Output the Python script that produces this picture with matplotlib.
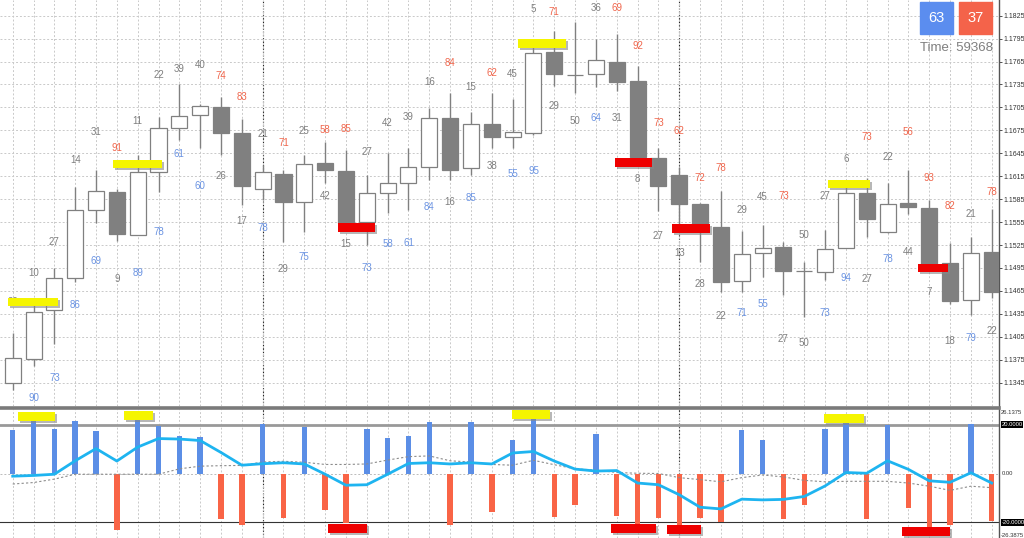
import matplotlib
matplotlib.use('Agg')
import matplotlib.pyplot as plt
from matplotlib import patheffects as pe
from matplotlib.lines import Line2D
from matplotlib.patches import Rectangle
import numpy as np

# ---------------- data ----------------
opens = [1.13450, 1.13760, 1.14401, 1.14816, 1.15709, 1.15948, 1.15382, 1.16210, 1.16785, 1.16951,
         1.17060, 1.16712, 1.15979, 1.16180, 1.15810, 1.16320, 1.16223, 1.15552, 1.15927, 1.16066,
         1.16275, 1.16912, 1.16254, 1.16834, 1.16660, 1.16712, 1.17779, 1.17472, 1.17484, 1.17648,
         1.17396, 1.16393, 1.16170, 1.15787, 1.15486, 1.14784, 1.15142, 1.15221, 1.14910, 1.14894,
         1.15212, 1.15935, 1.15417, 1.15804, 1.15731, 1.15020, 1.14532, 1.15163]
highs = [1.14100, 1.14492, 1.14950, 1.16010, 1.16232, 1.15983, 1.16428, 1.16929, 1.17353, 1.17095,
         1.17191, 1.16899, 1.16297, 1.16232, 1.16428, 1.16602, 1.16494, 1.16167, 1.16450, 1.16516,
         1.17039, 1.17235, 1.16994, 1.17243, 1.17161, 1.17910, 1.18050, 1.18172, 1.17941, 1.18007,
         1.17592, 1.16524, 1.16275, 1.15800, 1.15957, 1.15438, 1.15513, 1.15294, 1.15033, 1.15447,
         1.16058, 1.16123, 1.16066, 1.16232, 1.15840, 1.15273, 1.15359, 1.15718]
lows = [1.13355, 1.13668, 1.13956, 1.14767, 1.15539, 1.15307, 1.15375, 1.15948, 1.16624, 1.16516,
        1.16428, 1.15774, 1.15840, 1.15294, 1.15425, 1.16058, 1.15447, 1.15251, 1.15670, 1.15709,
        1.16101, 1.16101, 1.16167, 1.16516, 1.16516, 1.16690, 1.17331, 1.17235, 1.17314, 1.17269,
        1.16284, 1.15700, 1.15447, 1.15033, 1.14636, 1.14632, 1.14836, 1.14597, 1.14313, 1.14793,
        1.15205, 1.15352, 1.15410, 1.15656, 1.14976, 1.14479, 1.14336, 1.14554]
closes = [1.13769, 1.14379, 1.14816, 1.15709, 1.15961, 1.15395, 1.16210, 1.16777, 1.16942, 1.17073,
          1.16712, 1.16027, 1.16206, 1.15817, 1.16310, 1.16232, 1.15543, 1.15935, 1.16066, 1.16267,
          1.16908, 1.16232, 1.16830, 1.16667, 1.16725, 1.17766, 1.17484, 1.17468, 1.17667, 1.17387,
          1.16406, 1.16027, 1.15783, 1.15490, 1.14767, 1.15133, 1.15208, 1.14915, 1.14907, 1.15203,
          1.15927, 1.15595, 1.15787, 1.15748, 1.14999, 1.14523, 1.15142, 1.14640]

# numbers printed above / below each candle
top_vals = [29, 10, 27, 14, 31, 91, 11, 22, 39, 40, 74, 83, 21, 71, 25, 58, 85, 27, 42, 39,
            16, 84, 15, 62, 45, 5, 71, None, 36, 69, 92, 73, 62, 72, 78, 29, 45, 73, 50, 27,
            6, 73, 22, 56, 93, 82, 21, 78]
top_cols = ['g', 'g', 'g', 'g', 'g', 'r', 'g', 'g', 'g', 'g', 'r', 'r', 'g', 'r', 'g', 'r', 'r', 'g', 'g', 'g',
            'g', 'r', 'g', 'r', 'g', 'g', 'r', '-', 'g', 'r', 'r', 'r', 'r', 'r', 'r', 'g', 'g', 'r', 'g', 'g',
            'g', 'r', 'g', 'r', 'r', 'r', 'g', 'r']
top_lvls = [1.14506, 1.14885, 1.15290, 1.16363, 1.16729, 1.16520, 1.16873, 1.17474, 1.17553, 1.17605,
            1.17461, 1.17187, 1.16703, 1.16585, 1.16742, 1.16755, 1.16768, 1.16467, 1.16847, 1.16925,
            1.17383, 1.17631, 1.17317, 1.17501, 1.17488, 1.18338, 1.18298, None, 1.18351, 1.18351,
            1.17854, 1.16847, 1.16742, 1.16127, 1.16258, 1.15709, 1.15879, 1.15892, 1.15382, 1.15892,
            1.16376, 1.16664, 1.16402, 1.16729, 1.16127, 1.15761, 1.15656, 1.15944]
bot_vals = [None, 90, 73, 86, 69, 9, 89, 78, 61, 60, 26, 17, 78, 29, 75, 42, 15, 73, 58, 61,
            84, 16, 85, 38, 55, 95, 29, 50, 64, 31, 8, 27, 13, 28, 22, 71, 55, 27, 50, 73,
            94, 27, 78, 44, 7, 18, 79, 22]
bot_cols = ['-', 'b', 'b', 'b', 'b', 'g', 'b', 'b', 'b', 'b', 'g', 'g', 'b', 'g', 'b', 'g', 'g', 'b', 'b', 'b',
            'b', 'g', 'b', 'g', 'b', 'b', 'g', 'g', 'b', 'g', 'g', 'g', 'g', 'g', 'g', 'b', 'b', 'g', 'g', 'b',
            'b', 'g', 'b', 'g', 'g', 'g', 'b', 'g']
bot_lvls = [None, 1.13250, 1.13511, 1.14466, 1.15042, 1.14806, 1.14885, 1.15421, 1.16441, 1.16023,
            1.16153, 1.15565, 1.15473, 1.14937, 1.15094, 1.15892, 1.15264, 1.14950, 1.15264, 1.15277,
            1.15748, 1.15813, 1.15866, 1.16284, 1.16180, 1.16219, 1.17069, 1.16873, 1.16912, 1.16912,
            1.16114, 1.15369, 1.15146, 1.14741, 1.14322, 1.14362, 1.14479, 1.14022, 1.13969, 1.14362,
            1.14819, 1.14806, 1.15068, 1.15159, 1.14636, 1.13995, 1.14035, 1.14126]

# signal markers in the price panel: (from, to, level)
buy_marks = [(-0.23, 2.17, 1.14510), (4.82, 7.17, 1.16310), (24.26, 26.56, 1.17886), (39.14, 41.16, 1.16049)]
sell_marks = [(15.62, 17.39, 1.15480), (28.91, 30.69, 1.16330), (31.65, 33.48, 1.15467), (43.46, 44.90, 1.14950)]

# oscillator panel
osc_hist = [17.7, 22.5, 18.2, 21.5, 17.2, -23.0, 22.3, 19.6, 15.4, 15.0,
            -18.6, -21.0, 20.1, -18.1, 18.9, -14.8, -20.4, 18.2, 14.5, 15.4,
            21.0, -21.1, 21.2, -15.9, 13.8, 23.9, -17.9, -12.8, 16.1, -17.4,
            -21.8, -18.3, -21.0, -18.2, -19.7, 17.7, 13.8, -18.5, -12.8, 18.2,
            23.9, -18.5, 20.0, -14.2, -21.8, -21.0, 20.1, -19.6]
osc_line = [-1.1, -0.8, -0.3, 5.2, 10.2, 5.1, 10.8, 14.3, 14.1, 13.5,
            8.6, 3.4, 4.0, 4.4, 3.9, -0.3, -4.8, -4.6, -0.3, 4.1,
            4.4, 3.9, 4.4, 3.9, 8.4, 9.0, 5.1, 1.8, 1.0, 1.2,
            -3.9, -4.6, -8.7, -13.8, -14.5, -10.5, -10.8, -10.6, -9.4, -5.1,
            0.4, 0.1, 5.2, 1.7, -3.0, -3.6, 0.3, -3.9]
osc_signal = [-4.3, -3.7, -2.3, -0.3, -0.3, -0.3, -0.3, -0.3, 1.9, 3.0,
              3.2, 3.3, 4.7, 5.0, 4.6, 3.7, 3.7, 3.9, 5.5, 6.9,
              7.2, 5.2, 4.7, 3.7, 3.4, 5.4, 3.6, 1.9, 1.4, 0.4,
              0.1, 0.0, -1.7, -2.5, -3.4, -1.7, -0.6, -1.4, -2.8, -3.4,
              -3.2, -3.2, -3.2, -3.9, -5.2, -6.9, -5.2, -5.8]
osc_buy_marks = [(0.25, 2.03, 23.3), (5.34, 6.74, 23.9), (23.97, 25.80, 24.3), (38.95, 40.87, 22.7)]
osc_sell_marks = [(15.14, 17.01, -22.4), (28.72, 30.88, -22.6), (31.41, 33.04, -22.9), (42.69, 45.00, -23.9)]
osc_levels = [20.0, 0.0, -20.0]
osc_top, osc_bottom = 26.1375, -26.3875

day_breaks = [12, 32]
price_ticks = [1.1345, 1.1375, 1.1405, 1.1435, 1.1465, 1.1495, 1.1525, 1.1555, 1.1585,
               1.1615, 1.1645, 1.1675, 1.1705, 1.1735, 1.1765, 1.1795, 1.1825]
buy_count, sell_count, time_left = 63, 37, 59368

# ---------------- styles ----------------
FONT = ['Liberation Sans', 'DejaVu Sans']
GRAY = '#808080'
LBL = {'g': '#7f7f7f', 'r': '#f0654b', 'b': '#6a93e2'}
BLUE_BAR, RED_BAR = '#5b8ee6', '#f96446'
YELLOW, RED = '#f5f500', '#ee0000'
GRID = '#c9c9c9'

W, H = 1024, 538
fig = plt.figure(figsize=(W / 100, H / 100), dpi=100)
fig.patch.set_facecolor('white')

main_bottom_px = 406
ax = fig.add_axes([0, (H - main_bottom_px) / H, 999 / W, main_bottom_px / H])
ax2 = fig.add_axes([0, 0, 999 / W, 129 / H])

n = len(opens)
idx = np.arange(n)
xlo, xhi = -0.61, 47.35

# ---- candles ----
o = np.array(opens); c = np.array(closes)
bull = c >= o
ax.vlines(idx, lows, highs, color=GRAY, lw=1.0, zorder=2)
ax.bar(idx, np.abs(c - o), bottom=np.minimum(o, c), width=0.77,
       color=np.where(bull, 'white', GRAY), edgecolor=GRAY, linewidth=0.9, zorder=3)

for i in range(n):
    if top_vals[i] is not None:
        ax.text(i, top_lvls[i], str(top_vals[i]), ha='center', va='center', fontsize=7,
                color=LBL[top_cols[i]], family=FONT, zorder=5)
    if bot_vals[i] is not None:
        ax.text(i, bot_lvls[i], str(bot_vals[i]), ha='center', va='center', fontsize=7,
                color=LBL[bot_cols[i]], family=FONT, zorder=5)

shadow = [pe.SimplePatchShadow(offset=(1.5, -1.5), shadow_rgbFace='#888888', alpha=0.6), pe.Normal()]
mh = 0.00108
for (a, b, lv) in buy_marks:
    ax.barh(lv, b - a, left=a, height=mh, color=YELLOW, zorder=6, path_effects=shadow)
for (a, b, lv) in sell_marks:
    ax.barh(lv, b - a, left=a, height=mh, color=RED, zorder=6, path_effects=shadow)

ax.set_xlim(xlo, xhi)
ax.set_ylim(1.13145, 1.18455)
ax.set_xticks(idx)
ax.set_yticks(price_ticks)
ax.set_yticklabels([f'{p:.4f}' for p in price_ticks])
ax.grid(True, color=GRID, ls=(0, (2, 2)), lw=0.7, zorder=0)
ax.yaxis.tick_right()
ax.tick_params(axis='x', length=0, labelbottom=False)
ax.tick_params(axis='y', direction='out', length=2, width=0.6, pad=1.5, labelsize=5,
               colors='#333333')
for lab in ax.get_yticklabels():
    lab.set_family(FONT)
for s in ['top', 'left', 'bottom']:
    ax.spines[s].set_visible(False)
ax.spines['right'].set_color('#555555')
ax.spines['right'].set_linewidth(1.0)
for d in day_breaks:
    ax.axvline(d, color='#222222', ls=(0, (1.5, 1.5)), lw=0.8, zorder=1)

# ---- oscillator ----
ax2.bar(idx, osc_hist, width=0.26, color=[BLUE_BAR if v > 0 else RED_BAR for v in osc_hist], zorder=3)
ax2.plot(idx, osc_signal, color='#8c8c8c', lw=0.8, ls=(0, (2, 2)), zorder=4)
ax2.plot(idx, osc_line, color='#1eb4f0', lw=2.0, zorder=5)
ax2.axhline(osc_levels[0], color='#999999', lw=2.0, zorder=2)
ax2.axhline(osc_levels[1], color='#bbbbbb', lw=0.7, ls=(0, (2, 2)), zorder=2)
ax2.axhline(osc_levels[2], color='#333333', lw=0.8, zorder=2)
for d in day_breaks:
    ax2.axvline(d, color='#222222', ls=(0, (1.5, 1.5)), lw=0.8, zorder=1)
omh = 3.7
for (a, b, lv) in osc_buy_marks:
    ax2.barh(lv, b - a, left=a, height=omh, color=YELLOW, zorder=6, path_effects=shadow)
for (a, b, lv) in osc_sell_marks:
    ax2.barh(lv, b - a, left=a, height=omh, color=RED, zorder=6, path_effects=shadow)

ax2.set_xlim(xlo, xhi)
ax2.set_ylim(-26.4, 26.4)
ax2.set_xticks(idx)
ax2.set_yticks([])
ax2.grid(axis='x', color=GRID, ls=(0, (2, 2)), lw=0.7, zorder=0)
ax2.tick_params(axis='x', length=0, labelbottom=False)
for s in ['top', 'left', 'bottom']:
    ax2.spines[s].set_visible(False)
ax2.spines['right'].set_color('#555555')
ax2.spines['right'].set_linewidth(1.0)

ytr = ax2.get_yaxis_transform()
kw = dict(fontsize=4.2, family=FONT, transform=ytr, clip_on=False, ha='left')
ax2.text(1.002, osc_top, f'{osc_top:.4f}', va='top', color='#333333', **kw)
ax2.text(1.002, osc_bottom, f'{osc_bottom:.4f}', va='bottom', color='#333333', **kw)
ax2.text(1.003, osc_levels[1], f'{osc_levels[1]:.2f}', va='center', color='#333333', **kw)
for lv in (osc_levels[0], osc_levels[2]):
    ax2.text(1.0025, lv, f'{lv:.4f}', va='center', color='white',
             bbox=dict(boxstyle='square,pad=0.12', fc='black', ec='none'), **kw)

# panel separator
sep_y = (H - 407.5) / H
fig.add_artist(Line2D([0, 999 / W], [sep_y, sep_y], lw=2.6, color='#7a7a7a'))

# counters at the top right
fig.add_artist(Rectangle((920 / W, 1 - 34 / H), 33 / W, 32 / H, transform=fig.transFigure,
                         color='#5b8def', zorder=10))
fig.add_artist(Rectangle((959 / W, 1 - 34 / H), 33 / W, 32 / H, transform=fig.transFigure,
                         color='#f4634a', zorder=10))
fig.text(936.5 / W, 1 - 18 / H, str(buy_count), color='white', fontsize=10.5, family=FONT,
         ha='center', va='center', zorder=11)
fig.text(975.5 / W, 1 - 18 / H, str(sell_count), color='white', fontsize=10.5, family=FONT,
         ha='center', va='center', zorder=11)
fig.text(956 / W, 1 - 48 / H, f'Time: {time_left}', color='#7f7f7f', fontsize=9.5, family=FONT,
         ha='center', va='center', zorder=11)

fig.savefig('out.png', dpi=100)
